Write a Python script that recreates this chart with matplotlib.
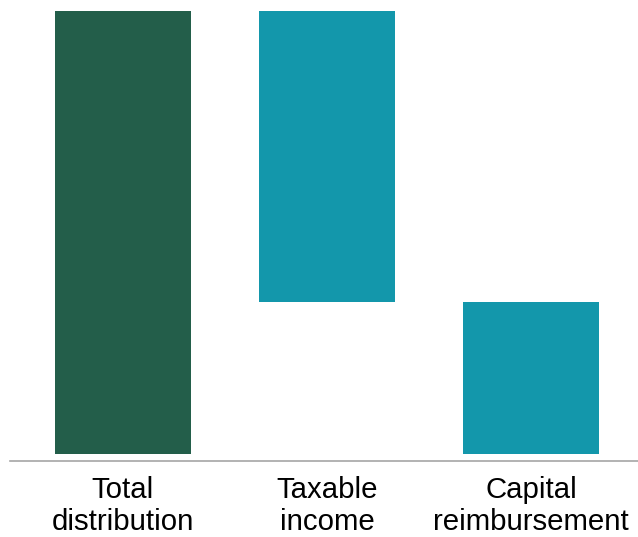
import matplotlib
matplotlib.use('Agg')
from matplotlib import pyplot as plt

# waterfall: total split into taxable part and capital part
categories = ['Total\ndistribution', 'Taxable\nincome', 'Capital\nreimbursement']
heights = [100.0, 65.7, 34.3]
bottoms = [0.0, 34.3, 0.0]
colors = ['#235E4A', '#1397AB', '#1397AB']

plt.rcParams['font.family'] = ['Liberation Sans', 'DejaVu Sans']

fig = plt.figure(figsize=(6.38, 5.37), dpi=100)
W, H = 638, 537
ax = fig.add_axes([10/W, 1-461/H, 628/W, 450/H])
x = range(len(categories))
ax.bar(x, heights, bottom=bottoms, width=0.667, color=colors)

ax.set_xlim(-0.554, 2.525)
ax.set_ylim(-1.6, 100)
for s in ['top', 'right', 'left']:
    ax.spines[s].set_visible(False)
ax.spines['bottom'].set_color('#A6A6A6')
ax.spines['bottom'].set_linewidth(1.2)
ax.set_yticks([])
ax.set_xticks(list(x))
ax.set_xticklabels(categories, fontsize=21.2, linespacing=1.15)
ax.tick_params(axis='x', length=0, pad=11)

fig.savefig('out.png', dpi=100)
